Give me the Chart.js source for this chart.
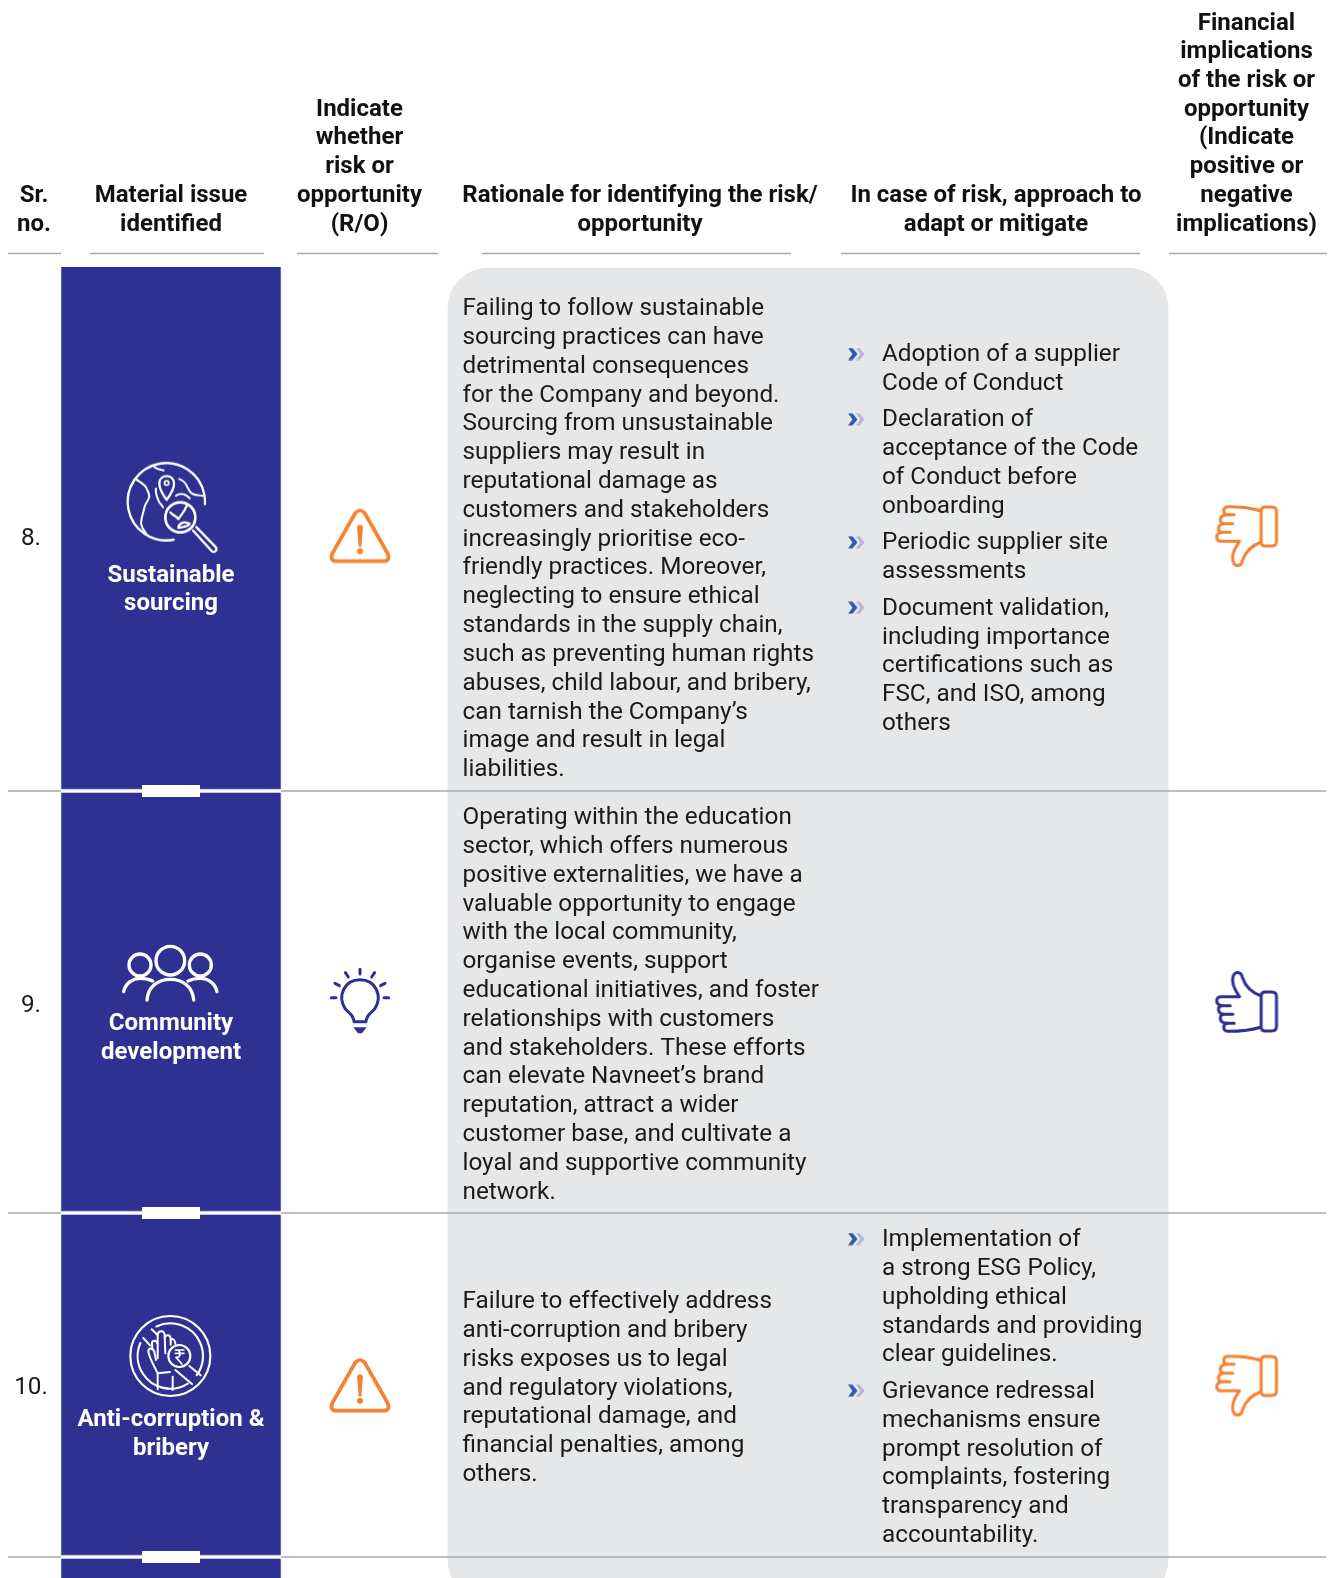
<!DOCTYPE html>
<html>
<head>
<meta charset="utf-8">
<title>Material issues</title>
<script src="https://cdn.jsdelivr.net/npm/chart.js@4/dist/chart.umd.min.js"></script>
<style>
  html, body { margin: 0; padding: 0; background: #ffffff; }
  canvas { display: block; }
</style>
</head>
<body>
<canvas id="materialChart" width="1329" height="1578"></canvas>
<script>
// Table content
const headerLabels = [
  ["Sr.", "no."],
  ["Material issue", "identified"],
  ["Indicate", "whether", "risk or", "opportunity", "(R/O)"],
  ["Rationale for identifying the risk/", "opportunity"],
  ["In case of risk, approach to", "adapt or mitigate"],
  ["Financial", "implications", "of the risk or", "opportunity", "(Indicate", "positive or", "negative", "implications)"],
];
const srNumbers = ["8.", "9.", "10."];
const issueNames = [
  ["Sustainable", "sourcing"],
  ["Community", "development"],
  ["Anti-corruption &", "bribery"],
];
const rationaleText = [
  ["Failing to follow sustainable", "sourcing practices can have", "detrimental consequences", "for the Company and beyond.", "Sourcing from unsustainable", "suppliers may result in", "reputational damage as", "customers and stakeholders", "increasingly prioritise eco-", "friendly practices. Moreover,", "neglecting to ensure ethical", "standards in the supply chain,", "such as preventing human rights", "abuses, child labour, and bribery,", "can tarnish the Company’s", "image and result in legal", "liabilities."],
  ["Operating within the education", "sector, which offers numerous", "positive externalities, we have a", "valuable opportunity to engage", "with the local community,", "organise events, support", "educational initiatives, and foster", "relationships with customers", "and stakeholders. These efforts", "can elevate Navneet’s brand", "reputation, attract a wider", "customer base, and cultivate a", "loyal and supportive community", "network."],
  ["Failure to effectively address", "anti-corruption and bribery", "risks exposes us to legal", "and regulatory violations,", "reputational damage, and", "financial penalties, among", "others."],
];
const mitigationText = [
  [
    ["Adoption of a supplier", "Code of Conduct"],
    ["Declaration of", "acceptance of the Code", "of Conduct before", "onboarding"],
    ["Periodic supplier site", "assessments"],
    ["Document validation,", "including importance", "certifications such as", "FSC, and ISO, among", "others"],
  ],
  [],
  [
    ["Implementation of", "a strong ESG Policy,", "upholding ethical", "standards and providing", "clear guidelines."],
    ["Grievance redressal", "mechanisms ensure", "prompt resolution of", "complaints, fostering", "transparency and", "accountability."],
  ],
];
const riskTypes = ["risk", "opportunity", "risk"];
const financialImpact = ["negative", "positive", "negative"];
const issueIconNames = ["globe", "people", "bribe"];

// Layout
const pageWidth = 1329;
const pageHeight = 1578;
const rowEdges = [267, 791, 1213, 1557];
const ratingY = [536.5, 1002, 1386];
const srY = [538.5, 1005.5, 1388];
const headerRuleY = 253.5;
const headerRuleSpans = [[8, 61], [90, 264], [297, 438], [482, 791], [841, 1140], [1169, 1327]];
const headerCentres = [34, 171, 359.5, 640, 996, 1246.5];
const headerBottomY = 224.5;
const headerLineHeight = 28.68;
const issueColumn = [61, 281];
const panelColumn = [448, 1168];
const rationaleX = 462.5;
const rationaleStarts = [309, 818, 1302];
const mitigationX = 882;
const mitigationStarts = [355, null, 1240];
const bulletX = 856;
const lineHeight = 28.82;
const paragraphGap = 7.7;
const issueLabelY = [575.5, 1024, 1420];
const issueIconY = [506.7, 975, 1356];
const srX = 31;
const ratingX = 360;
const thumbX = 1248.5;
const thumbY = [537, 1001, 1386.5];
const bottomBleed = 1590;

const navy = "#2e3192";
const orange = "#f58233";
const fontBody = "24.3px Roboto";
const fontBold = "700 24px Roboto";

// Icons are painted once, then used as point styles
const makeIcon = (width, height, cropX, cropY, color, paint) => {
  const icon = document.createElement("canvas");
  icon.width = width;
  icon.height = height;
  const ctx = icon.getContext("2d");
  ctx.scale(1 / 3, 1 / 3);
  ctx.translate(-cropX, -cropY);
  ctx.strokeStyle = color;
  ctx.fillStyle = color;
  ctx.lineCap = "round";
  ctx.lineJoin = "round";
  paint(ctx);
  return icon;
};

const strokePath = (ctx, d, width) => {
  ctx.lineWidth = width;
  ctx.stroke(new Path2D(d));
};

const warningIcon = () => makeIcon(70, 64, 675, 195, orange, (ctx) => {
  strokePath(ctx, "M765 222 Q780 204 795 222 L863 342 Q872 365 850 365 L710 365 Q688 365 697 342 Z", 11);
  ctx.fill(new Path2D("M771 262 Q780 250 789 262 L784 322 L776 322 Z"));
  ctx.beginPath();
  ctx.arc(780, 335, 9, 0, Math.PI * 2);
  ctx.fill();
});

const bulbIcon = () => makeIcon(70, 76, 675, 135, navy, (ctx) => {
  strokePath(ctx, "M762 308 C760 285 745 283 735 268 C712 232 732 182 780 182 C828 182 848 232 825 268 C815 283 800 285 798 308 Z", 9);
  ctx.fill(new Path2D("M760 325 L800 325 L786 343 L774 343 Z"));
  const rays = ["M780 151 L780 165", "M736 161 L745 174", "M824 161 L815 174", "M705 193 L718 200", "M855 193 L842 200", "M694 236 L708 236", "M866 236 L852 236"];
  rays.forEach((ray) => strokePath(ctx, ray, 9));
});

const thumbIcon = (color, flipped) => makeIcon(70, 70, 100, 65, color, (ctx) => {
  if (flipped) {
    ctx.translate(0, 2 * 170);
    ctx.scale(1, -1);
  }
  strokePath(ctx, "M243 92 C220 84 190 79 142 79 C127 79 127 103 142 103 L162 103", 9);
  strokePath(ctx, "M142 103 L130 105 C116 110 118 130 132 130 L158 130", 9);
  strokePath(ctx, "M130 130 L124 132 C112 136 112 156 124 156 L150 156", 9);
  strokePath(ctx, "M124 156 L118 158 C105 164 108 183 122 183 L178 183 C170 197 153 215 158 240 C162 260 182 262 187 240 C193 222 208 198 243 185", 9);
  strokePath(ctx, "M243 92 Q243 80 255 80 L275 80 Q289 80 289 94 L289 183 Q289 197 275 197 L255 197 Q243 197 243 185 Z", 9);
});

const globeIcon = () => makeIcon(100, 100, 60, 50, "#ffffff", (ctx) => {
  ctx.translate(60, 45);
  ctx.lineWidth = 7;
  ctx.beginPath();
  ctx.arc(136, 140, 116, Math.PI * 0.44, Math.PI * 2.02);
  ctx.stroke();
  const coast = [
    "M45 72 C58 82 70 88 76 98 C80 110 88 118 84 128 C80 140 72 146 70 158 C68 170 62 182 60 204 C62 218 70 228 76 236",
    "M100 36 C110 44 118 44 128 46",
    "M175 72 C188 76 194 84 198 94 C204 104 206 112 214 116 C226 122 236 120 245 122",
    "M105 100 C102 116 110 130 114 140 C118 146 122 150 126 156",
    "M165 122 C172 116 190 112 206 130",
  ];
  coast.forEach((d) => strokePath(ctx, d, 6));
  strokePath(ctx, "M137 134 C125 118 114 100 115 84 C116 56 158 56 159 84 C160 100 149 118 137 134 Z", 7);
  ctx.beginPath();
  ctx.arc(137, 84, 6.5, 0, Math.PI * 2);
  ctx.lineWidth = 5;
  ctx.stroke();
  ctx.lineWidth = 8;
  ctx.beginPath();
  ctx.arc(178, 187, 45, 0, Math.PI * 2);
  ctx.stroke();
  strokePath(ctx, "M148 172 C155 182 165 180 172 192 C178 182 190 172 198 150", 7);
  strokePath(ctx, "M172 218 C174 205 188 196 206 206 C198 216 188 214 176 218", 7);
  strokePath(ctx, "M216 226 L272 288 Q280 294 286 285 Q288 278 282 274 L226 216", 7);
});

const peopleIcon = () => makeIcon(110, 70, 50, 60, "#ffffff", (ctx) => {
  ctx.lineWidth = 10;
  [[213, 122, 43], [122, 135, 33], [303, 135, 33]].forEach(([cx, cy, r]) => {
    ctx.beginPath();
    ctx.arc(cx, cy, r, 0, Math.PI * 2);
    ctx.stroke();
  });
  strokePath(ctx, "M143 240 C146 200 175 178 213 178 C251 178 280 200 283 240", 10);
  strokePath(ctx, "M73 215 C78 190 100 175 122 175 C138 175 150 178 160 183", 10);
  strokePath(ctx, "M353 215 C348 190 326 175 303 175 C288 175 276 178 266 183", 10);
});

const bribeIcon = () => makeIcon(90, 90, 78, 33, "#ffffff", (ctx) => {
  ctx.translate(60, 30);
  ctx.lineWidth = 6.5;
  ctx.beginPath();
  ctx.arc(151, 138, 120, 0, Math.PI * 2);
  ctx.stroke();
  // inner ring, broken by the diagonal bar
  ctx.beginPath();
  ctx.arc(151, 138, 98, Math.PI * 0.32, Math.PI * 1.13);
  ctx.stroke();
  ctx.beginPath();
  ctx.arc(151, 138, 98, Math.PI * 1.36, Math.PI * 2.2);
  ctx.stroke();
  const bar = ["M70 84 L90 106", "M95 58 L112 74", "M208 168 L242 196", "M166 180 L216 222"];
  bar.forEach((d) => strokePath(ctx, d, 6));
  // hand
  const hand = [
    "M112 188 C105 172 90 150 85 125 C85 112 98 112 103 125 L108 150",
    "M97 118 L96 100 C96 90 110 90 112 100",
    "M113 145 L113 76 C114 60 133 60 134 76 L136 130",
    "M134 82 C138 72 152 74 152 86 L152 104",
    "M152 90 C158 84 166 90 166 102",
    "M113 190 L113 238 M158 200 L158 240 M113 190 L150 186",
  ];
  hand.forEach((d) => strokePath(ctx, d, 6));
  ctx.lineWidth = 6.5;
  ctx.beginPath();
  ctx.arc(178, 138, 33, 0, Math.PI * 2);
  ctx.stroke();
  strokePath(ctx, "M166 120 L192 120 M166 130 L192 130 M168 120 C184 120 184 142 168 142 L186 162", 5);
});

const chevronIcon = () => {
  const icon = document.createElement("canvas");
  icon.width = 18;
  icon.height = 13;
  const ctx = icon.getContext("2d");
  ctx.fillStyle = "#aeb6e0";
  ctx.fill(new Path2D("M9 0.5 L12.5 0.5 L17.5 6.5 L12.5 12.5 L9 12.5 L13.5 6.5 Z"));
  ctx.fillStyle = "#2b5aa6";
  ctx.fill(new Path2D("M1 0.5 L5.5 0.5 L10.5 6.5 L5.5 12.5 L1 12.5 L5.5 6.5 Z"));
  return icon;
};

// Mitigation bullets and where each of their lines sit
const mitigationRows = [];
const bulletPoints = [];
mitigationText.forEach((paragraphs, row) => {
  let y = mitigationStarts[row];
  paragraphs.forEach((lines) => {
    bulletPoints.push({ x: bulletX, y: y - 1 });
    lines.forEach((line) => {
      mitigationRows.push({ text: line, y: y });
      y += lineHeight;
    });
    y += paragraphGap;
  });
});

// Draws the table text at the positions given by the chart scales
const tableText = {
  id: "tableText",
  afterDatasetsDraw(chart) {
    const { ctx, scales } = chart;
    const put = (text, x, y, font, color, align) => {
      ctx.font = font;
      ctx.fillStyle = color;
      ctx.textAlign = align;
      ctx.fillText(text, scales.x.getPixelForValue(x), scales.y.getPixelForValue(y));
    };
    ctx.save();
    ctx.textBaseline = "middle";
    headerLabels.forEach((lines, col) => {
      lines.forEach((line, i) => {
        const y = headerBottomY - (lines.length - 1 - i) * headerLineHeight;
        put(line, headerCentres[col], y, fontBold, "#111111", "center");
      });
    });
    srNumbers.forEach((label, row) => {
      put(label, srX, srY[row], fontBody, "#1a1a1a", "center");
    });
    issueNames.forEach((lines, row) => {
      lines.forEach((line, i) => {
        put(line, (issueColumn[0] + issueColumn[1]) / 2, issueLabelY[row] + i * lineHeight, fontBold, "#ffffff", "center");
      });
    });
    rationaleText.forEach((lines, row) => {
      lines.forEach((line, i) => {
        put(line, rationaleX, rationaleStarts[row] + i * lineHeight, fontBody, "#1a1a1a", "left");
      });
    });
    mitigationRows.forEach((item) => {
      put(item.text, mitigationX, item.y, fontBody, "#1a1a1a", "left");
    });
    ctx.restore();
  },
};

// Build datasets from the arrays above
const columnCentre = (span) => (span[0] + span[1]) / 2;
const hLine = (from, to, y) => [{ x: from, y: y }, { x: to, y: y }];

const headerRuleData = [];
headerRuleSpans.forEach((span) => {
  headerRuleData.push(...hLine(span[0], span[1], headerRuleY), { x: span[1], y: null });
});

const rowRuleData = [];
rowEdges.slice(1).forEach((y) => {
  rowRuleData.push(...hLine(8, pageWidth - 3, y), { x: pageWidth - 3, y: null });
});

const whiteRuleData = [];
const notchData = [];
rowEdges.slice(1).forEach((y) => {
  whiteRuleData.push(...hLine(issueColumn[0], issueColumn[1], y), { x: issueColumn[1], y: null });
  notchData.push(...hLine(142, 200, y), { x: 200, y: null });
});

const issueBlockData = rowEdges.map((edge, i) => ({
  x: columnCentre(issueColumn),
  y: [i === 0 ? edge : edge + 1.5, i < rowEdges.length - 1 ? rowEdges[i + 1] - 1.5 : bottomBleed],
}));

const iconPoints = [];
const iconStyles = [];
const iconMakers = { globe: globeIcon, people: peopleIcon, bribe: bribeIcon };
issueIconNames.forEach((name, row) => {
  iconPoints.push({ x: columnCentre(issueColumn), y: issueIconY[row] });
  iconStyles.push(iconMakers[name]());
});
riskTypes.forEach((type, row) => {
  iconPoints.push({ x: ratingX, y: ratingY[row] });
  iconStyles.push(type === "risk" ? warningIcon() : bulbIcon());
});
financialImpact.forEach((impact, row) => {
  iconPoints.push({ x: thumbX, y: thumbY[row] });
  iconStyles.push(impact === "negative" ? thumbIcon(orange, false) : thumbIcon(navy, true));
});

document.addEventListener("DOMContentLoaded", () => {
  const ctx = document.querySelector("#materialChart").getContext("2d");
  new Chart(ctx, {
    type: "bar",
    data: {
      datasets: [
        {
          label: "Rationale and mitigation panel",
          data: [{ x: columnCentre(panelColumn), y: [rowEdges[0] + 1, bottomBleed + 10] }],
          backgroundColor: "#e6e7e8",
          barThickness: panelColumn[1] - panelColumn[0],
          borderRadius: 40,
          borderSkipped: false,
          grouped: false,
          order: 9,
        },
        {
          type: "line",
          label: "Row rules",
          data: rowRuleData,
          borderColor: "#a7a9ac",
          borderWidth: 1.5,
          pointRadius: 0,
          spanGaps: false,
          order: 8,
        },
        {
          type: "line",
          label: "Header rules",
          data: headerRuleData,
          borderColor: "#a7a9ac",
          borderWidth: 1.5,
          pointRadius: 0,
          spanGaps: false,
          order: 7,
        },
        {
          label: "Material issue",
          data: issueBlockData,
          backgroundColor: navy,
          borderColor: "#8285c6",
          borderWidth: { left: 1, right: 1, top: 0, bottom: 1 },
          barThickness: issueColumn[1] - issueColumn[0],
          borderRadius: 1,
          borderSkipped: false,
          grouped: false,
          order: 6,
        },
        {
          type: "line",
          label: "White rules",
          data: whiteRuleData,
          borderColor: "#ffffff",
          borderWidth: 2.5,
          borderCapStyle: "butt",
          pointRadius: 0,
          spanGaps: false,
          order: 5,
        },
        {
          type: "line",
          label: "Notches",
          data: notchData,
          borderColor: "#ffffff",
          borderWidth: 12,
          borderCapStyle: "butt",
          pointRadius: 0,
          spanGaps: false,
          order: 4,
        },
        {
          type: "scatter",
          label: "Icons",
          data: iconPoints,
          pointStyle: iconStyles,
          pointRadius: 10,
          order: 2,
        },
        {
          type: "scatter",
          label: "Bullets",
          data: bulletPoints,
          pointStyle: chevronIcon(),
          pointRadius: 10,
          order: 1,
        },
      ],
    },
    options: {
      responsive: false,
      animation: false,
      layout: { padding: 0, autoPadding: false },
      plugins: { legend: { display: false }, tooltip: { enabled: false } },
      scales: {
        x: { type: "linear", display: false, offset: false, min: 0, max: pageWidth },
        y: { type: "linear", display: false, reverse: true, min: 0, max: pageHeight, beginAtZero: false },
      },
    },
    plugins: [tableText],
  });
});
</script>
</body>
</html>
